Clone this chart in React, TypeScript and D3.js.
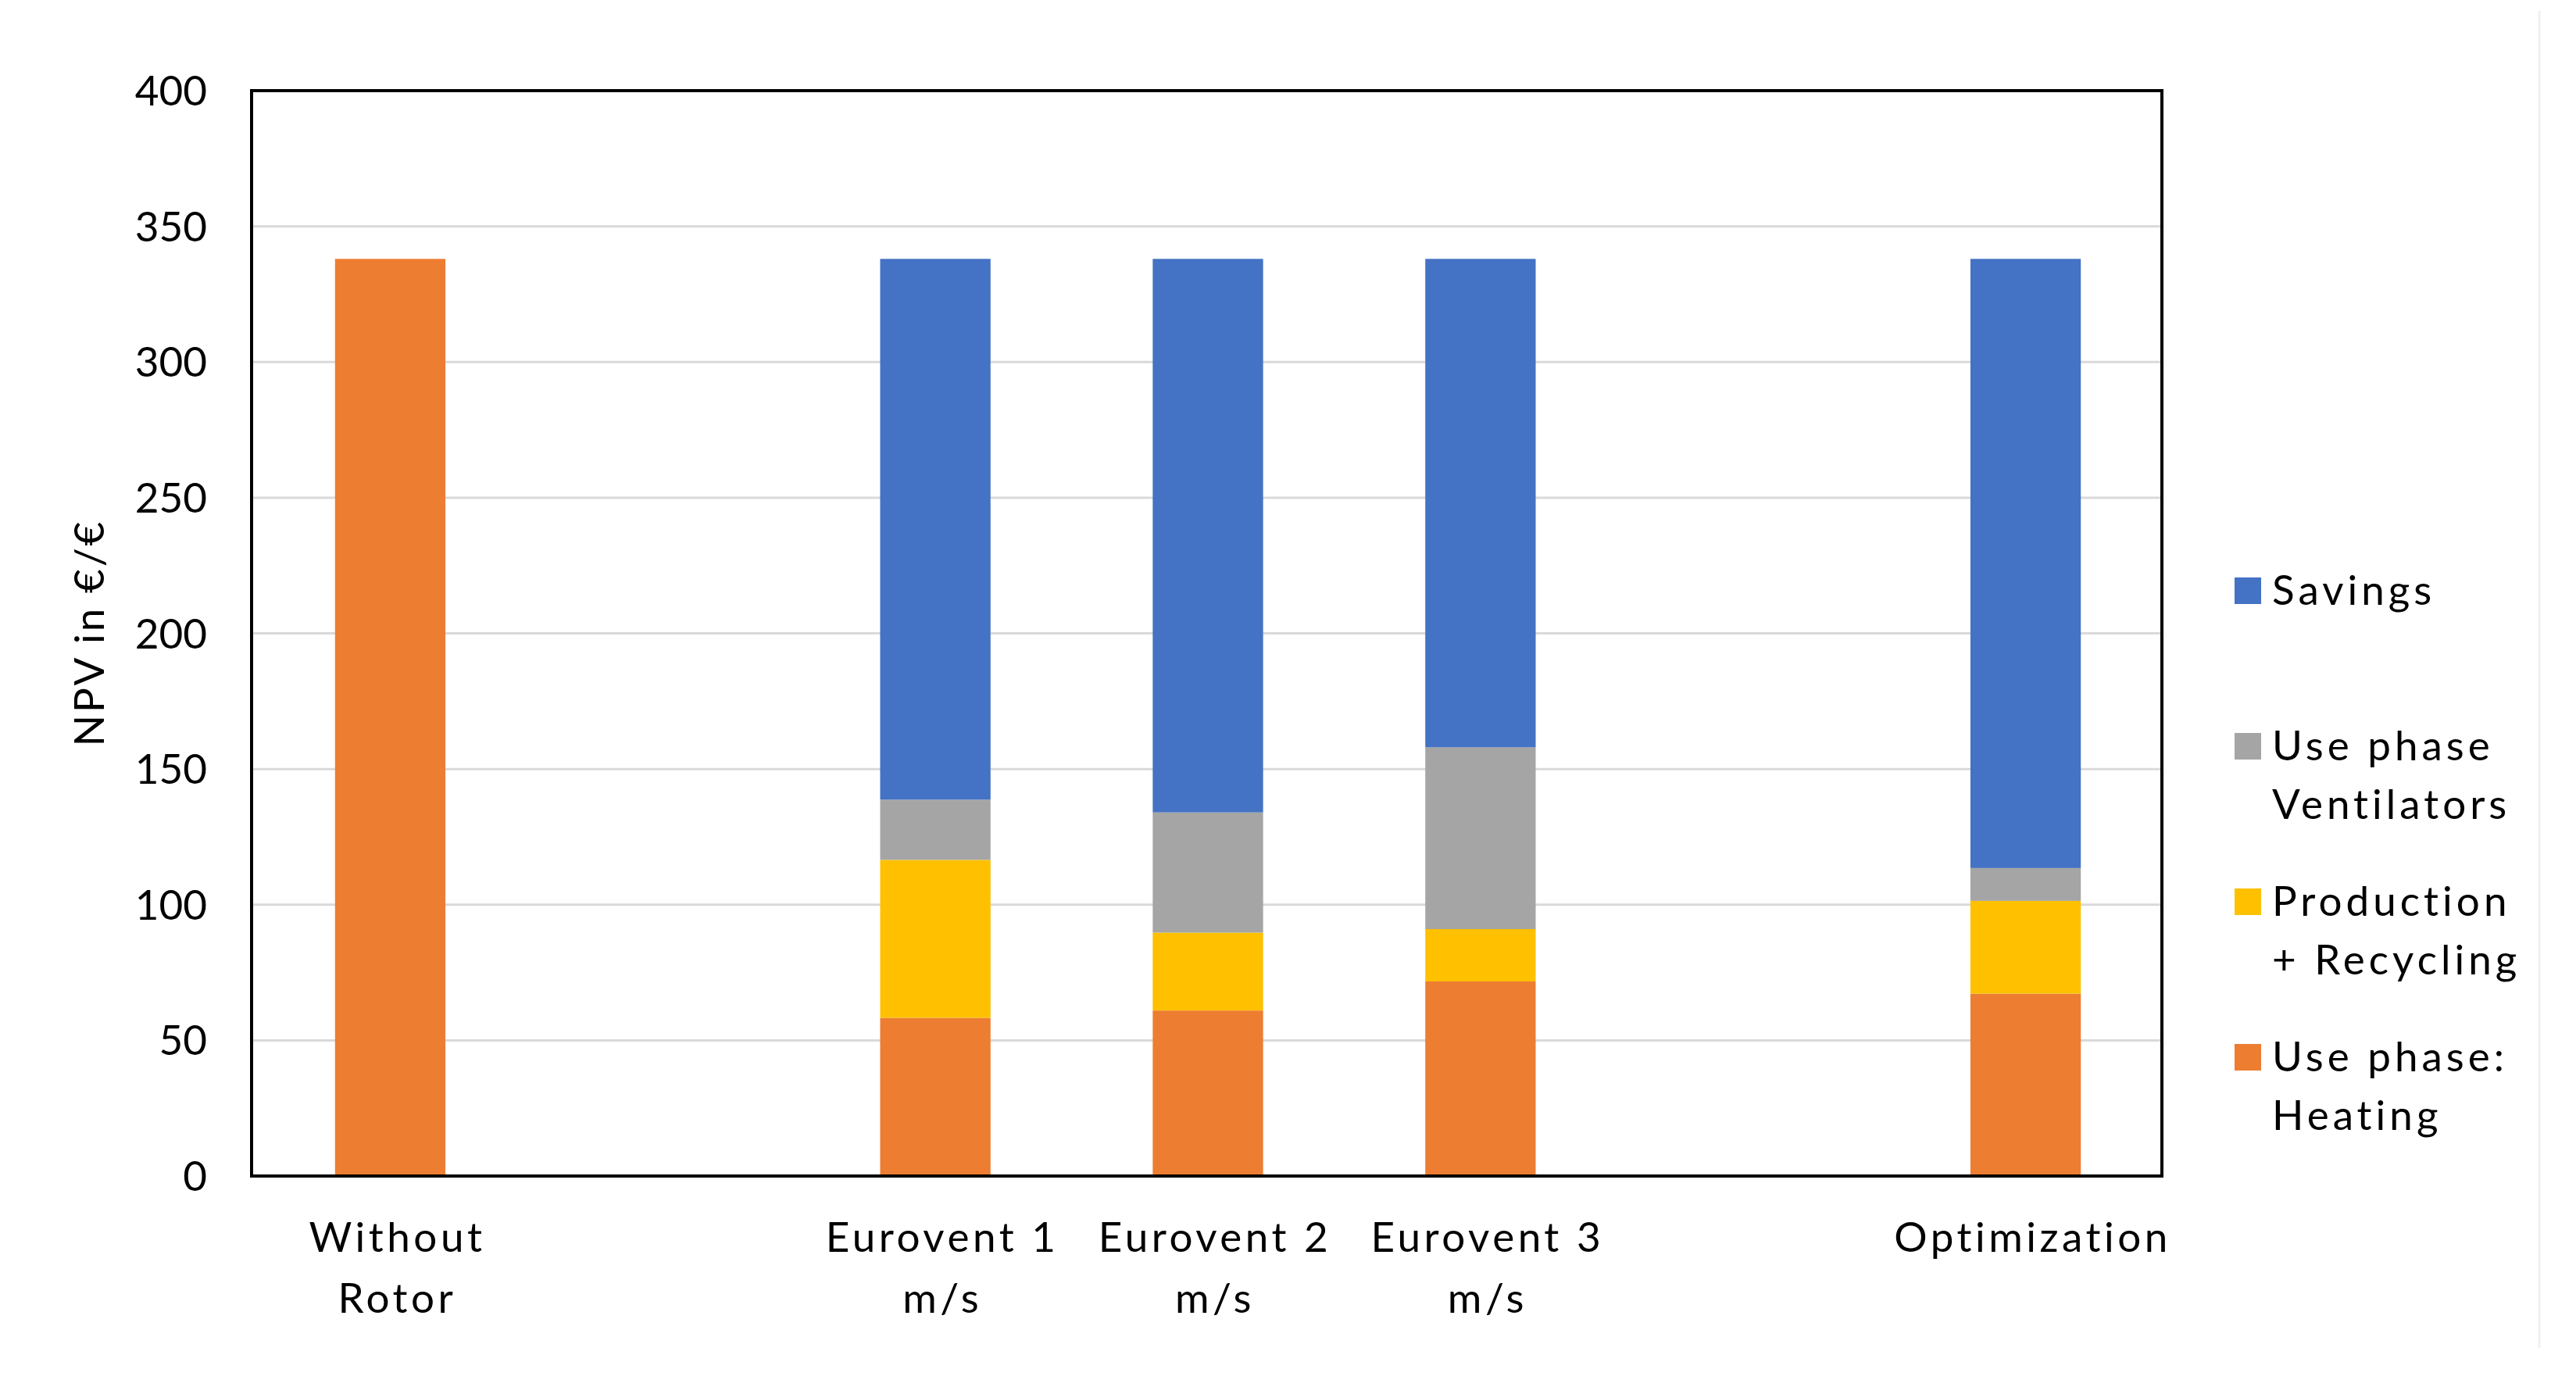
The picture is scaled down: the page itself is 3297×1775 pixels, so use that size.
import React from 'react';
import * as d3 from 'd3';

// ---- data ----
const categories = ['Without\nRotor', '', 'Eurovent 1\nm/s', 'Eurovent 2\nm/s', 'Eurovent 3\nm/s', '', 'Optimization'];
const heating = [338, 0, 58.3, 61.0, 71.7, 0, 67.2];
const production = [0, 0, 58.2, 28.7, 19.3, 0, 34.2];
const ventilators = [0, 0, 22.2, 44.3, 67.0, 0, 12.1];
const savings = [0, 0, 199.3, 204.0, 180.0, 0, 224.5];
const yTicks = [0, 50, 100, 150, 200, 250, 300, 350, 400];
const seriesKeys = ['heating', 'production', 'ventilators', 'savings'];
const seriesColors = ['#ED7D31', '#FFC000', '#A5A5A5', '#4472C4'];
const legendLabels = [['Savings'], ['Use phase', 'Ventilators'], ['Production', '+ Recycling'], ['Use phase:', 'Heating']];
const legendColors = ['#4472C4', '#A5A5A5', '#FFC000', '#ED7D31'];
const yTitle = 'NPV in €/€';

const W = 3297;
const H = 1775;
const FONT = 'Lato, Carlito, "Open Sans", sans-serif';

export default function App() {
  const left = 322, right = 2767, top = 116, bottom = 1505;

  const rows = categories.map((c, i) => ({
    idx: String(i),
    heating: heating[i],
    production: production[i],
    ventilators: ventilators[i],
    savings: savings[i],
  }));

  const x = d3.scaleBand<string>()
    .domain(rows.map(r => r.idx))
    .range([left + 3, right])
    .paddingInner(0.595)
    .paddingOuter(0.2975);

  const y = d3.scaleLinear().domain([0, 400]).range([bottom, top]);

  const stacked = d3.stack<any>().keys(seriesKeys)(rows);

  return (
    <svg width={W} height={H} style={{ position: 'absolute', left: 0, top: 0, background: '#fff' }}
      fontFamily={FONT}>
      <rect x={0} y={0} width={W} height={H} fill="#fff" />
      <line x1={3250} x2={3250} y1={14} y2={1725} stroke="#f0f0f0" strokeWidth={3} />
      {/* gridlines */}
      {yTicks.map(t => (
        <line key={'g' + t} x1={left} x2={right} y1={y(t)} y2={y(t)} stroke="#d9d9d9" strokeWidth={3} />
      ))}
      {/* bars */}
      {stacked.map((s, si) => (
        <g key={s.key} fill={seriesColors[si]}>
          {s.map((d, i) => {
            const h = y(d[0]) - y(d[1]);
            if (h <= 0) return null;
            return <rect key={i} x={x(String(i))} width={x.bandwidth()} y={y(d[1])} height={h} />;
          })}
        </g>
      ))}
      {/* plot border */}
      <rect x={left} y={top} width={right - left} height={bottom - top} fill="none" stroke="#000" strokeWidth={4} />
      {/* y tick labels */}
      {yTicks.map(t => (
        <text key={'t' + t} x={265} y={y(t)} dy="0.36em" textAnchor="end" fontSize={53} fill="#000">{t}</text>
      ))}
      {/* x labels */}
      {categories.map((c, i) => {
        const cx = (x(String(i)) as number) + x.bandwidth() / 2 + 9;
        return (
          <text key={'x' + i} x={cx} textAnchor="middle" fontSize={53} fill="#000" letterSpacing={4.5}>
            {c.split('\n').map((line, li) => (
              <tspan key={li} x={cx} y={1602 + li * 78}>{line}</tspan>
            ))}
          </text>
        );
      })}
      {/* y title */}
      <text transform={`translate(133,810) rotate(-90)`} textAnchor="middle" fontSize={53} fill="#000" letterSpacing={3}>{yTitle}</text>
      {/* legend */}
      {legendLabels.map((lines, i) => {
        const cy = 755 + i * 199;
        return (
          <g key={'l' + i}>
            <rect x={2860} y={cy - 16} width={34} height={34} fill={legendColors[i]} />
            <text x={2908} fontSize={53} fill="#000" letterSpacing={5}>
              {lines.map((ln, li) => (
                <tspan key={li} x={2908} y={cy + 19 + li * 75}>{ln}</tspan>
              ))}
            </text>
          </g>
        );
      })}
    </svg>
  );
}
